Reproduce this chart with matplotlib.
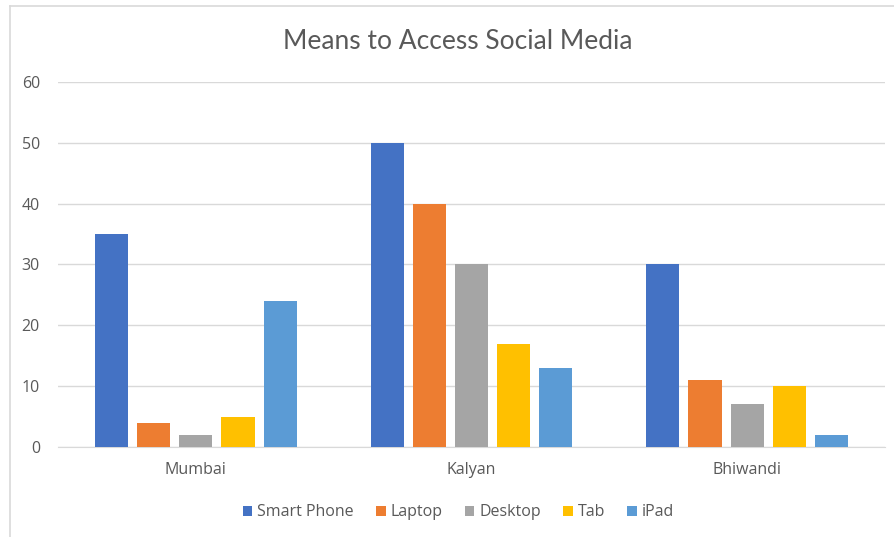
import matplotlib.pyplot as plt
import numpy as np

plt.rcParams['font.family'] = ['Open Sans', 'DejaVu Sans']

cities = ['Mumbai', 'Kalyan', 'Bhiwandi']
devices = ['Smart Phone', 'Laptop', 'Desktop', 'Tab', 'iPad']
smart_phone = [35, 50, 30]
laptop = [4, 40, 11]
desktop = [2, 30, 7]
tab = [5, 17, 10]
ipad = [24, 13, 2]
colors = ['#4472C4', '#ED7D31', '#A5A5A5', '#FFC000', '#5B9BD5']

fig = plt.figure(figsize=(8.95, 5.37), dpi=100)
ax = fig.add_axes([0.0648, 0.1676, 0.924, 0.6797])

x = np.arange(len(cities))
slot = 0.153
width = 0.12
for i, vals in enumerate([smart_phone, laptop, desktop, tab, ipad]):
    ax.bar(x + (i - 2) * slot, vals, width, color=colors[i], label=devices[i], zorder=3)

ax.set_xlim(-0.5, 2.5)
ax.set_ylim(0, 60)
ax.set_yticks(range(0, 61, 10))
ax.set_xticks(x)
ax.set_xticklabels(cities)
ax.grid(axis='y', color='#D9D9D9', lw=1, zorder=0)
for s in ['top', 'right', 'left']:
    ax.spines[s].set_visible(False)
ax.spines['bottom'].set_color('#D9D9D9')
ax.tick_params(length=0, colors='#595959', labelsize=11.5)
ax.tick_params(axis='x', pad=11)
ax.tick_params(axis='y', pad=13)

fig.text(0.512, 0.922, 'Means to Access Social Media', ha='center', va='center',
         fontsize=19, color='#595959', family=['Lato', 'DejaVu Sans'])

fig.legend(loc='center', bbox_to_anchor=(0.512, 0.046), ncol=5, frameon=False,
           fontsize=11.5, handlelength=0.6, handleheight=0.6, handletextpad=0.3,
           columnspacing=1.4, labelcolor='#595959')

# chart frame
fig.add_artist(plt.Line2D([0.0112, 0.0112], [0, 0.989], color='#D9D9D9', lw=1.2))
fig.add_artist(plt.Line2D([0.0112, 1], [0.989, 0.989], color='#D9D9D9', lw=1.2))

fig.savefig('out.png', dpi=100)
